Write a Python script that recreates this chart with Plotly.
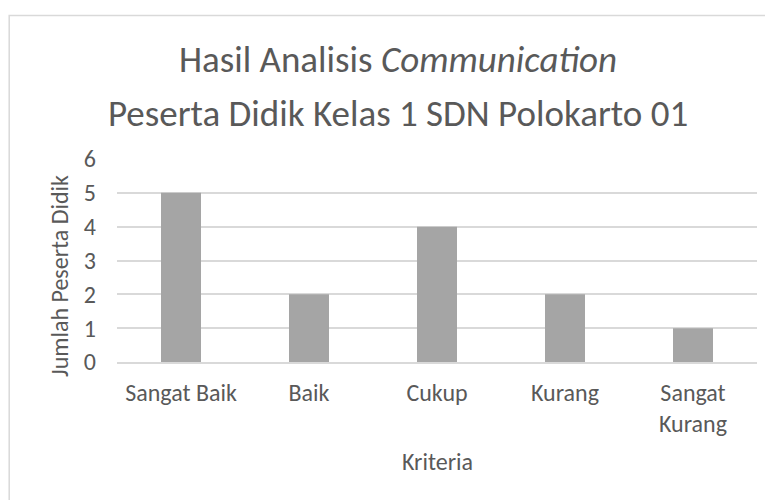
import plotly.graph_objects as go

categories = ["Sangat Baik", "Baik", "Cukup", "Kurang", "Sangat<br>Kurang"]
values = [5, 2, 4, 2, 1]
y_ticks = [0, 1, 2, 3, 4, 5, 6]
title_line1 = "Hasil Analisis <i>Communication</i>"
title_line2 = "Peserta Didik Kelas 1 SDN Polokarto 01"
x_title = "Kriteria"
y_title = "Jumlah Peserta Didik"

FONT = "Calibri, Carlito, Lato, 'Open Sans', sans-serif"
TXT = "#595959"
GRID = "#d9d9d9"

# page has an 8px body margin; figure fills the rest of the 773x500 window
W, H = 765, 492
L, R, T, B = 109, 16, 151, 138
pw = W - L - R
ph = H - T - B
ybot = T + ph  # figure pixel of plot bottom


def py(fig_y):
    """figure pixel y -> paper y"""
    return (ybot - fig_y) / ph


def px(fig_x):
    return (fig_x - L) / pw


TITLE_CX = 390  # chart-title centre (figure px), centred on the chart frame

fig = go.Figure(go.Bar(
    x=categories, y=values,
    marker=dict(color="#a5a5a5", line=dict(width=0)),
    width=0.3125,
))

fig.update_layout(
    width=W, height=H,
    margin=dict(l=L, r=R, t=T, b=B),
    paper_bgcolor="white", plot_bgcolor="white",
    font=dict(family=FONT, color=TXT),
    showlegend=False,
    title=dict(
        text=title_line1,
        font=dict(size=37, color=TXT, family=FONT),
        x=TITLE_CX / W, xref="container", xanchor="center",
        y=1 - 51 / H, yanchor="middle",
    ),
    xaxis=dict(
        showgrid=False, showline=True, linecolor=GRID, linewidth=1.5,
        ticks="", tickfont=dict(size=24, color=TXT),
        ticklabelstandoff=8,
    ),
    yaxis=dict(
        range=[0, 6], tickvals=y_ticks, showgrid=True, gridcolor=GRID, gridwidth=1.5,
        zeroline=False, showline=False, ticks="",
        tickfont=dict(size=24, color=TXT), ticklabelstandoff=20,
    ),
    annotations=[
        dict(text=title_line2, xref="paper", yref="paper", x=px(TITLE_CX), y=py(105),
             xanchor="center", yanchor="middle", showarrow=False,
             font=dict(size=37, color=TXT, family=FONT)),
        dict(text=x_title, xref="paper", yref="paper", x=0.5, y=py(453),
             xanchor="center", yanchor="middle", showarrow=False,
             font=dict(size=24, color=TXT, family=FONT)),
        dict(text=y_title, xref="paper", yref="paper", x=px(51), y=py(268),
             xanchor="center", yanchor="middle", showarrow=False, textangle=-90,
             font=dict(size=24, color=TXT, family=FONT)),
    ],
    shapes=[dict(
        type="rect", xref="paper", yref="paper",
        x0=px(1.2), x1=px(W + 10),
        y0=py(H + 10), y1=py(7.5),
        line=dict(color=GRID, width=1.5), fillcolor="rgba(0,0,0,0)", layer="below",
    )],
)

fig.write_html("out.html")
